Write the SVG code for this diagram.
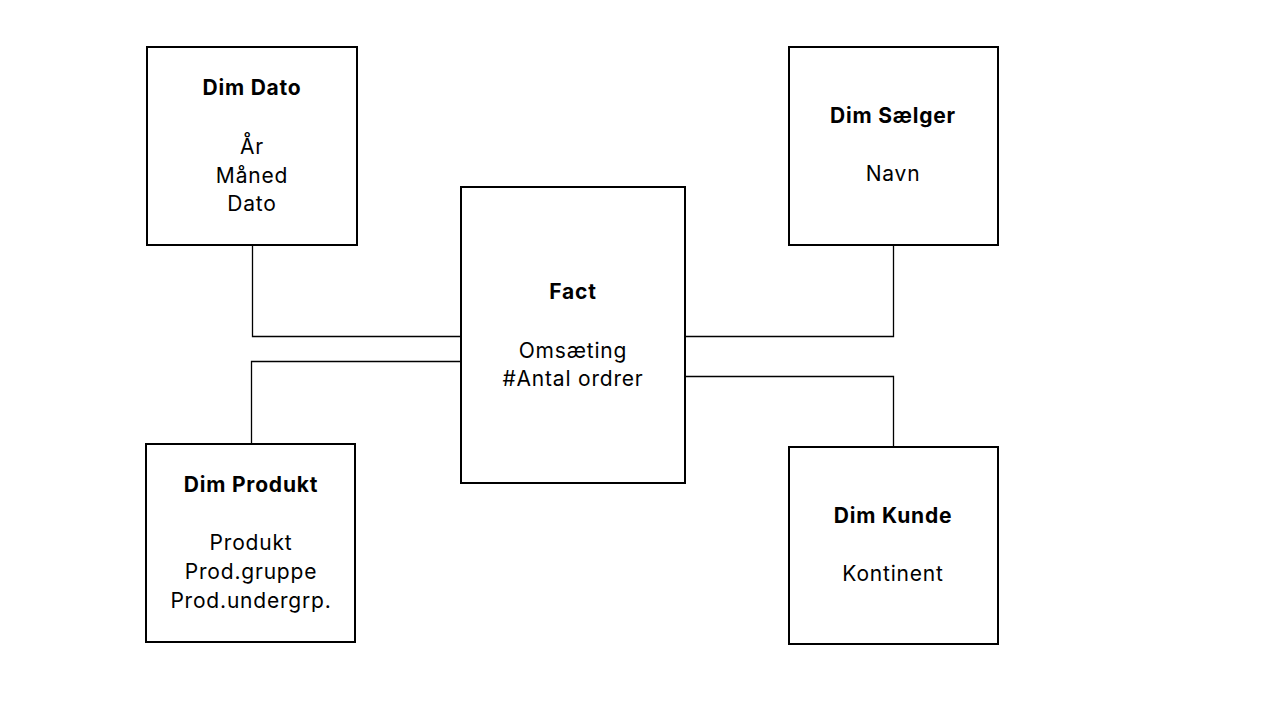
<svg xmlns="http://www.w3.org/2000/svg" width="1280" height="720" viewBox="0 0 1280 720">
<style>
.box{fill:#fff;stroke:#000;stroke-width:2}
.conn{fill:none;stroke:#000;stroke-width:1.3}
text{font-family:Inter,"Open Sans","Liberation Sans",sans-serif;font-size:21px;letter-spacing:0.8px;fill:#000;text-anchor:middle}
.t{font-weight:bold}
</style>
<rect width="1280" height="720" fill="#fff"/>
<g id="connectors">
<polyline class="conn" points="252.5,245 252.5,336.5 461,336.5"/>
<polyline class="conn" points="251.5,444 251.5,361.5 461,361.5"/>
<polyline class="conn" points="893.5,245 893.5,336.5 685,336.5"/>
<polyline class="conn" points="893.5,447 893.5,376.5 685,376.5"/>
</g>
<g id="dimdato">
<rect class="box" x="147" y="47" width="210" height="198"/>
<text class="t" x="252" y="95">Dim Dato</text>
<text x="252" y="154">År</text>
<text x="252" y="183">Måned</text>
<text x="252" y="211">Dato</text>
</g>
<g id="dimsaelger">
<rect class="box" x="789" y="47" width="209" height="198"/>
<text class="t" x="893" y="123">Dim Sælger</text>
<text x="893" y="181">Navn</text>
</g>
<g id="fact">
<rect class="box" x="461" y="187" width="224" height="296"/>
<text class="t" x="573" y="299">Fact</text>
<text x="573" y="358">Omsæting</text>
<text x="573" y="386">#Antal ordrer</text>
</g>
<g id="dimprodukt">
<rect class="box" x="146" y="444" width="209" height="198"/>
<text class="t" x="251" y="492">Dim Produkt</text>
<text x="251" y="550">Produkt</text>
<text x="251" y="579">Prod.gruppe</text>
<text x="251" y="608">Prod.undergrp.</text>
</g>
<g id="dimkunde">
<rect class="box" x="789" y="447" width="209" height="197"/>
<text class="t" x="893" y="523">Dim Kunde</text>
<text x="893" y="581">Kontinent</text>
</g>
</svg>
